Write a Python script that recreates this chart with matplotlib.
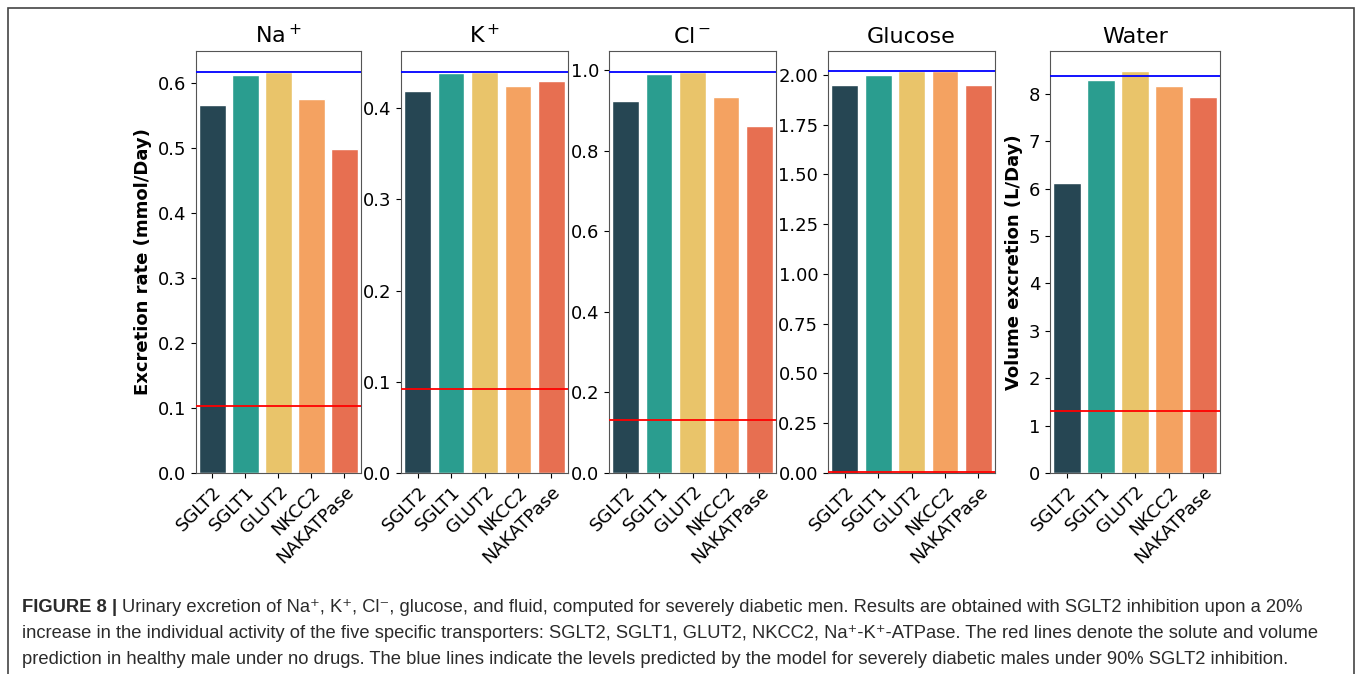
import matplotlib
matplotlib.use("Agg")
import matplotlib.pyplot as plt
from matplotlib.patches import Rectangle

transporters = ["SGLT2", "SGLT1", "GLUT2", "NKCC2", "NAKATPase"]
bar_colors = ["#264653", "#2a9d8f", "#e9c46a", "#f4a261", "#e76f51"]

na_rates = [0.566, 0.612, 0.617, 0.575, 0.498]
k_rates = [0.419, 0.438, 0.439, 0.424, 0.430]
cl_rates = [0.923, 0.990, 0.995, 0.933, 0.861]
glucose_rates = [1.95, 2.00, 2.02, 2.02, 1.95]
water_rates = [6.12, 8.29, 8.48, 8.17, 7.93]

# healthy male, no drugs (red) / diabetic male, 90% SGLT2 inhibition (blue)
healthy_levels = [0.103, 0.092, 0.131, 0.004, 1.31]
inhibited_levels = [0.617, 0.439, 0.995, 2.02, 8.37]

titles = ["Na$^+$", "K$^+$", "Cl$^-$", "Glucose", "Water"]
ylims = [(0, 0.649), (0, 0.4625), (0, 1.047), (0, 2.12), (0, 8.90)]
yticks = [
    [0.0, 0.1, 0.2, 0.3, 0.4, 0.5, 0.6],
    [0.0, 0.1, 0.2, 0.3, 0.4],
    [0.0, 0.2, 0.4, 0.6, 0.8, 1.0],
    [0.0, 0.25, 0.5, 0.75, 1.0, 1.25, 1.5, 1.75, 2.0],
    [0, 1, 2, 3, 4, 5, 6, 7, 8],
]
ytick_fmt = ["{:.1f}", "{:.1f}", "{:.1f}", "{:.2f}", "{:.0f}"]
all_rates = [na_rates, k_rates, cl_rates, glucose_rates, water_rates]

# axes boxes in figure fractions: left, bottom, width, height
boxes = [
    [0.1444, 0.2982, 0.1216, 0.6261],
    [0.2955, 0.2982, 0.1231, 0.6261],
    [0.4488, 0.2982, 0.1231, 0.6261],
    [0.6102, 0.2982, 0.1231, 0.6261],
    [0.7738, 0.2982, 0.1253, 0.6261],
]

fig = plt.figure(figsize=(13.57, 6.74), dpi=100)

# outer frame
fig.patches.append(Rectangle((8 / 1357, -0.05), 1346 / 1357, 1.05 - 8 / 674,
                             transform=fig.transFigure, fill=False,
                             edgecolor="#444444", linewidth=1.2))

x = list(range(len(transporters)))
for i in range(5):
    ax = fig.add_axes(boxes[i])
    ax.bar(x, all_rates[i], width=0.8, color=bar_colors,
           edgecolor="white", linewidth=1.0, zorder=2)
    ax.axhline(healthy_levels[i], color="red", linewidth=1.3, zorder=3)
    ax.axhline(inhibited_levels[i], color="blue", linewidth=1.3, zorder=3)
    ax.set_xlim(-0.5, 4.5)
    ax.set_ylim(*ylims[i])
    ax.set_yticks(yticks[i])
    ax.set_yticklabels([ytick_fmt[i].format(v) for v in yticks[i]], fontsize=13)
    ax.set_xticks(x)
    ax.set_xticklabels(transporters, rotation=45, ha="right",
                       rotation_mode="anchor", fontsize=13)
    ax.set_title(titles[i], fontsize=16, pad=6)
    for s in ax.spines.values():
        s.set_color("#555555")
    if i == 0:
        ax.set_ylabel("Excretion rate (mmol/Day)", fontsize=13, fontweight="bold")
    if i == 4:
        ax.set_ylabel("Volume excretion (L/Day)", fontsize=13, fontweight="bold")

# caption
cap_font = ["Liberation Sans Narrow", "Liberation Sans", "DejaVu Sans"]
cap_color = "#2b2b2b"
head = "FIGURE 8 | "
lines = [
    "Urinary excretion of Na\u207a, K\u207a, Cl\u207b, glucose, and fluid, computed for severely diabetic men. Results are obtained with SGLT2 inhibition upon a 20%",
    "increase in the individual activity of the five specific transporters: SGLT2, SGLT1, GLUT2, NKCC2, Na\u207a-K\u207a-ATPase. The red lines denote the solute and volume",
    "prediction in healthy male under no drugs. The blue lines indicate the levels predicted by the model for severely diabetic males under 90% SGLT2 inhibition.",
]
baselines = [612, 638, 664]
x0 = 22 / 1357

renderer = fig.canvas.get_renderer()
probe = fig.text(0, 0, lines[1], family=cap_font, fontsize=12)
w = probe.get_window_extent(renderer).width
probe.remove()
cap_size = 12 * 1298 / w

t_head = fig.text(x0, 1 - baselines[0] / 674, head, family=cap_font,
                  fontsize=cap_size, fontweight="bold", color=cap_color,
                  va="baseline")
hw = t_head.get_window_extent(renderer).width / 1357
fig.text(x0 + hw, 1 - baselines[0] / 674, lines[0], family=cap_font,
         fontsize=cap_size, color=cap_color, va="baseline")
for k in (1, 2):
    fig.text(x0, 1 - baselines[k] / 674, lines[k], family=cap_font,
             fontsize=cap_size, color=cap_color, va="baseline")

fig.savefig("out.png", dpi=100)
